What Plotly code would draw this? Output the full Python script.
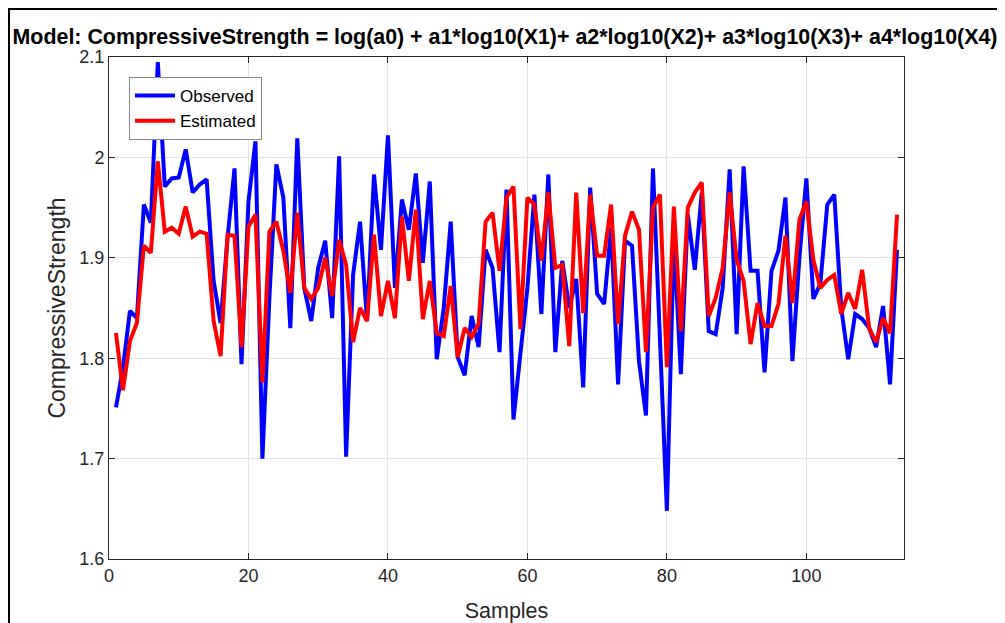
import plotly.graph_objects as go

samples = list(range(1, 114))

observed = [
    1.751, 1.790, 1.847, 1.840, 1.953, 1.935, 2.095, 1.971, 1.979, 1.980,
    2.008, 1.965, 1.973, 1.978, 1.877, 1.835, 1.920, 1.989, 1.794, 1.956,
    2.016, 1.700, 1.860, 1.993, 1.960, 1.830, 2.019, 1.870, 1.837, 1.890,
    1.917, 1.840, 2.001, 1.702, 1.883, 1.936, 1.837, 1.983, 1.908, 2.022,
    1.870, 1.958, 1.928, 1.984, 1.895, 1.976, 1.799, 1.850, 1.936, 1.801,
    1.783, 1.842, 1.811, 1.908, 1.890, 1.806, 1.968, 1.739, 1.805, 1.870,
    1.963, 1.844, 1.983, 1.806, 1.897, 1.850, 1.879, 1.771, 1.970, 1.864,
    1.854, 1.930, 1.774, 1.917, 1.912, 1.797, 1.743, 1.989, 1.820, 1.648,
    1.920, 1.784, 1.943, 1.888, 1.965, 1.827, 1.824, 1.870, 1.988, 1.824,
    1.991, 1.887, 1.887, 1.786, 1.887, 1.907, 1.960, 1.797, 1.900, 1.979,
    1.859, 1.874, 1.953, 1.963, 1.850, 1.799, 1.844, 1.839, 1.830, 1.811,
    1.852, 1.774, 1.908,
]

estimated = [
    1.825, 1.768, 1.817, 1.835, 1.912, 1.905, 1.996, 1.926, 1.930, 1.924,
    1.951, 1.921, 1.926, 1.924, 1.837, 1.802, 1.923, 1.922, 1.811, 1.931,
    1.943, 1.776, 1.926, 1.936, 1.907, 1.865, 1.945, 1.870, 1.859, 1.870,
    1.900, 1.862, 1.918, 1.893, 1.816, 1.850, 1.837, 1.923, 1.842, 1.877,
    1.840, 1.941, 1.877, 1.948, 1.839, 1.877, 1.825, 1.822, 1.872, 1.801,
    1.830, 1.821, 1.834, 1.936, 1.945, 1.887, 1.960, 1.971, 1.829, 1.960,
    1.953, 1.897, 1.965, 1.890, 1.893, 1.812, 1.965, 1.845, 1.963, 1.902,
    1.902, 1.953, 1.834, 1.922, 1.946, 1.928, 1.806, 1.950, 1.963, 1.791,
    1.951, 1.827, 1.950, 1.965, 1.975, 1.842, 1.860, 1.890, 1.965, 1.898,
    1.877, 1.814, 1.855, 1.832, 1.832, 1.854, 1.922, 1.855, 1.938, 1.956,
    1.898, 1.870, 1.878, 1.883, 1.844, 1.865, 1.849, 1.888, 1.830, 1.816,
    1.840, 1.825, 1.943,
]

x_ticks = [0, 20, 40, 60, 80, 100]
y_ticks = [1.6, 1.7, 1.8, 1.9, 2.0, 2.1]
y_tick_labels = ["1.6", "1.7", "1.8", "1.9", "2", "2.1"]

title_text = ("Model: CompressiveStrength = log(a0) + a1*log10(X1)+ a2*log10(X2)"
              "+ a3*log10(X3)+ a4*log10(X4)")

FONT = "Liberation Sans, Arial, sans-serif"

fig = go.Figure()
fig.add_trace(go.Scatter(x=samples, y=observed, mode="lines", name="Observed",
                         line=dict(color="#0000FF", width=4)))
fig.add_trace(go.Scatter(x=samples, y=estimated, mode="lines", name="Estimated",
                         line=dict(color="#FF0000", width=4)))

# page body has an 8px offset; compensate so the plot lands where the reference has it
OFF = 8
L, T = 109 - OFF, 57 - OFF
W, H = 1005 - OFF, 623 - OFF
pw, ph = 795, 502
R, B = W - L - pw, H - T - ph

def px2paper_x(px):
    return (px - OFF - L) / pw

def py2paper_y(py):
    return 1 - (py - OFF - T) / ph

fig.add_shape(type="rect", xref="paper", yref="paper",
              x0=px2paper_x(9), x1=px2paper_x(998),
              y0=py2paper_y(660), y1=py2paper_y(9),
              line=dict(color="black", width=2), fillcolor="rgba(0,0,0,0)",
              layer="below")

axis_common = dict(
    showgrid=True, gridcolor="#E3E3E3", gridwidth=1,
    showline=True, linecolor="#262626", linewidth=1, mirror="ticks",
    ticks="inside", ticklen=6, tickcolor="#262626",
    tickfont=dict(family=FONT, size=18, color="#262626"),
    zeroline=False, automargin=False,
)

fig.update_layout(
    width=W, height=H,
    margin=dict(l=L, r=R, t=T, b=B, autoexpand=False),
    paper_bgcolor="white", plot_bgcolor="white",
    title=dict(text="<b>" + title_text + "</b>", x=(505 - OFF) / W, xanchor="center",
               xref="container", y=1 - (36.5 - OFF) / H, yanchor="middle",
               font=dict(family=FONT, size=21.4, color="black"), automargin=False),
    xaxis=dict(range=[0, 114], tickvals=x_ticks,
               title=dict(text="Samples", standoff=20,
                          font=dict(family=FONT, size=21.5, color="#262626")),
               **axis_common),
    yaxis=dict(range=[1.6, 2.1], tickvals=y_ticks, ticktext=y_tick_labels,
               title=dict(text="CompressiveStrength", standoff=7,
                          font=dict(family=FONT, size=23, color="#262626")),
               **axis_common),
    legend=dict(x=px2paper_x(129), y=py2paper_y(77), xanchor="left", yanchor="top",
                bgcolor="white", bordercolor="#888888", borderwidth=1,
                font=dict(family=FONT, size=17, color="black"),
                tracegroupgap=0, itemwidth=40),
    showlegend=True,
)

fig.write_html("out.html")
